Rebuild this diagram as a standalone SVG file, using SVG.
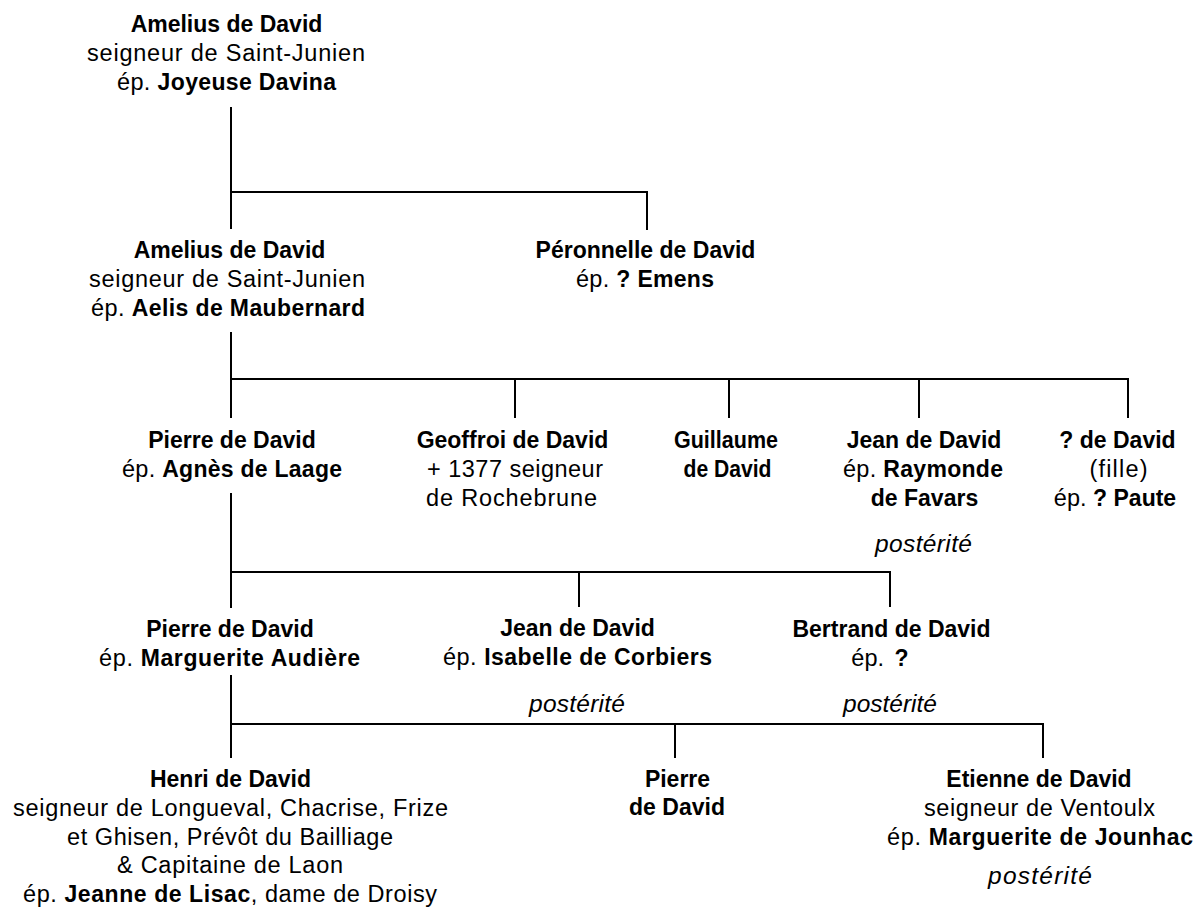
<svg xmlns="http://www.w3.org/2000/svg" width="1195" height="907" viewBox="0 0 1195 907">
<style>
text{font-family:"Liberation Sans",Arial,sans-serif;font-size:23.5px;fill:#000;text-anchor:middle}
.b{font-weight:bold;font-size:23px}
.i{font-style:italic;font-size:24.5px}
.ln{stroke:#000;stroke-width:2;fill:none}
</style>
<rect width="1195" height="907" fill="#fff"/>
<g id="connectors" class="ln">
<path d="M231 107V229M231 192H647V230"/>
<path d="M231 332V418M231 379H1128V418M515 379V418M729 379V418M919 379V418"/>
<path d="M231 493V608M231 572H890V607M579 572V607"/>
<path d="M231 675V758M231 724H1043V758M675 724V758"/>
</g>
<g id="amelius1">
<text class="b" x="226.5" y="32">Amelius de David</text>
<text x="226" y="61" textLength="278" lengthAdjust="spacing">seigneur de Saint-Junien</text>
<text x="226.5" y="90" textLength="219" lengthAdjust="spacing">ép. <tspan class="b">Joyeuse Davina</tspan></text>
</g>
<g id="amelius2">
<text class="b" x="229.5" y="258">Amelius de David</text>
<text x="227" y="287" textLength="276" lengthAdjust="spacing">seigneur de Saint-Junien</text>
<text x="228" y="316" textLength="274" lengthAdjust="spacing">ép. <tspan class="b">Aelis de Maubernard</tspan></text>
</g>
<g id="peronnelle">
<text class="b" x="645.5" y="258">Péronnelle de David</text>
<text x="645" y="287" textLength="138" lengthAdjust="spacing">ép. <tspan class="b">? Emens</tspan></text>
</g>
<g id="pierre1">
<text class="b" x="232" y="448">Pierre de David</text>
<text x="232" y="477" textLength="220" lengthAdjust="spacing">ép. <tspan class="b">Agnès de Laage</tspan></text>
</g>
<g id="geoffroi">
<text class="b" x="512.5" y="448">Geoffroi de David</text>
<text x="515" y="477" textLength="176" lengthAdjust="spacing">+ 1377 seigneur</text>
<text x="511.5" y="506" textLength="171" lengthAdjust="spacing">de Rochebrune</text>
</g>
<g id="guillaume">
<text class="b" x="726" y="448" textLength="104" lengthAdjust="spacingAndGlyphs">Guillaume</text>
<text class="b" x="727.5" y="477" textLength="88" lengthAdjust="spacingAndGlyphs">de David</text>
</g>
<g id="jean1">
<text class="b" x="924" y="448">Jean de David</text>
<text x="923" y="477" textLength="160" lengthAdjust="spacing">ép. <tspan class="b">Raymonde</tspan></text>
<text class="b" x="924.5" y="506">de Favars</text>
<text class="i" x="923.5" y="552" textLength="97" lengthAdjust="spacing">postérité</text>
</g>
<g id="fille">
<text class="b" x="1117.5" y="448">? de David</text>
<text x="1118.5" y="477" textLength="58" lengthAdjust="spacing">(fille)</text>
<text x="1115" y="506">ép. <tspan class="b">? Paute</tspan></text>
</g>
<g id="pierre2">
<text class="b" x="230" y="637">Pierre de David</text>
<text x="229.5" y="666" textLength="261" lengthAdjust="spacing">ép. <tspan class="b">Marguerite Audière</tspan></text>
</g>
<g id="jean2">
<text class="b" x="577.5" y="636">Jean de David</text>
<text x="577.5" y="665" textLength="269" lengthAdjust="spacing">ép. <tspan class="b">Isabelle de Corbiers</tspan></text>
<text class="i" x="577" y="712" textLength="96" lengthAdjust="spacing">postérité</text>
</g>
<g id="bertrand">
<text class="b" x="891.5" y="637">Bertrand de David</text>
<text style="word-spacing:4px" x="880" y="666">ép. <tspan class="b">?</tspan></text>
<text class="i" x="890" y="712" textLength="94" lengthAdjust="spacing">postérité</text>
</g>
<g id="henri">
<text class="b" x="230.5" y="787">Henri de David</text>
<text x="230.5" y="816" textLength="435" lengthAdjust="spacing">seigneur de Longueval, Chacrise, Frize</text>
<text x="230" y="845" textLength="326" lengthAdjust="spacing">et Ghisen, Prévôt du Bailliage</text>
<text x="230" y="873" textLength="226" lengthAdjust="spacing">&amp; Capitaine de Laon</text>
<text x="230" y="902" textLength="414" lengthAdjust="spacing">ép. <tspan class="b">Jeanne de Lisac</tspan>, dame de Droisy</text>
</g>
<g id="pierre3">
<text class="b" x="677.5" y="787">Pierre</text>
<text class="b" x="677" y="815">de David</text>
</g>
<g id="etienne">
<text class="b" x="1039" y="787">Etienne de David</text>
<text x="1039.5" y="816" textLength="231" lengthAdjust="spacing">seigneur de Ventoulx</text>
<text x="1040" y="845" textLength="306" lengthAdjust="spacing">ép. <tspan class="b">Marguerite de Jounhac</tspan></text>
<text class="i" x="1040" y="884" textLength="104" lengthAdjust="spacing">postérité</text>
</g>
</svg>
